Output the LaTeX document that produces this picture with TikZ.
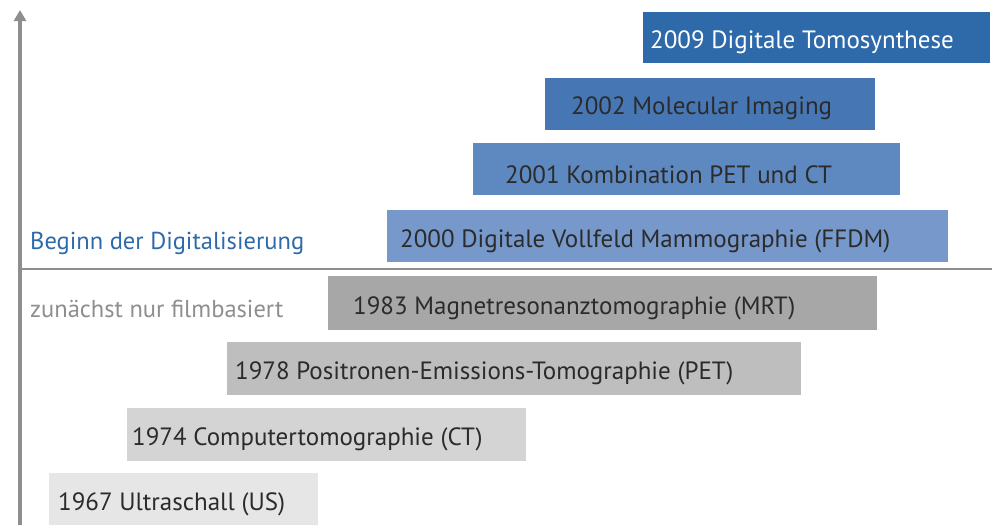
\documentclass[tikz,border=0pt]{standalone}
\usepackage{fontspec}
\setmainfont{PT Sans}
\usetikzlibrary{arrows.meta}
\definecolor{b1}{HTML}{2E6AAA}
\definecolor{b2}{HTML}{4677B4}
\definecolor{b3}{HTML}{5D88C0}
\definecolor{b4}{HTML}{7798CB}
\definecolor{g1}{HTML}{A7A7A7}
\definecolor{g2}{HTML}{BEBEBE}
\definecolor{g3}{HTML}{D4D4D4}
\definecolor{g4}{HTML}{E6E6E6}
\definecolor{axisgray}{HTML}{8E8E8E}
\definecolor{txt}{HTML}{2B2B2B}
\definecolor{lblblue}{HTML}{2E6AAA}
\tikzset{
  bar/.style={inner sep=0pt, outer sep=0pt},
  bartext/.style={anchor=west, inner sep=0pt, font=\fontsize{25}{27}\selectfont, text=txt},
  sidetext/.style={anchor=west, inner sep=0pt, font=\fontsize{24.5}{27}\selectfont},
}
\begin{document}
\begin{tikzpicture}[x=1pt,y=-1pt]
\useasboundingbox (0,0) rectangle (992,525);
% bars
\fill[b1] (643,12) rectangle (990,63);
\fill[b2] (545,78) rectangle (875,130);
\fill[b3] (473,143) rectangle (900,195);
\fill[b4] (387,210) rectangle (948,262);
\fill[g1] (328,276) rectangle (877,330);
\fill[g2] (227,342) rectangle (801,395);
\fill[g3] (127,408) rectangle (526,461);
\fill[g4] (49,473) rectangle (318,525);
% texts
\node[bartext, text=white] (t2009) at (650,42) {2009 Digitale Tomosynthese};
\node[bartext] (t2002) at (571,108) {2002 Molecular Imaging};
\node[bartext] (t2001) at (505,175) {2001 Kombination PET und CT};
\node[bartext] (t2000) at (400,241) {2000 Digitale Vollfeld Mammographie (FFDM)};
\node[bartext] (t1983) at (353,308) {1983 Magnetresonanztomographie (MRT)};
\node[bartext] (t1978) at (235,373) {1978 Positronen-Emissions-Tomographie (PET)};
\node[bartext] (t1974) at (132,439) {1974 Computertomographie (CT)};
\node[bartext] (t1967) at (58,504) {1967 Ultraschall (US)};
\node[sidetext, text=lblblue] (dig) at (30,243) {Beginn der Digitalisierung};
\node[sidetext, text=axisgray] (film) at (30,309) {zunächst nur filmbasiert};
% axes
\coordinate (hl) at (20,269);
\coordinate (hr) at (992,269);
\draw[axisgray, line width=2pt] (hl) -- (hr);
\coordinate (vb) at (20,525);
\coordinate (vt) at (20,10);
\draw[axisgray, line width=3.5pt, -{Triangle[length=11pt,width=12pt]}] (vb) -- (vt);
\end{tikzpicture}
\end{document}
